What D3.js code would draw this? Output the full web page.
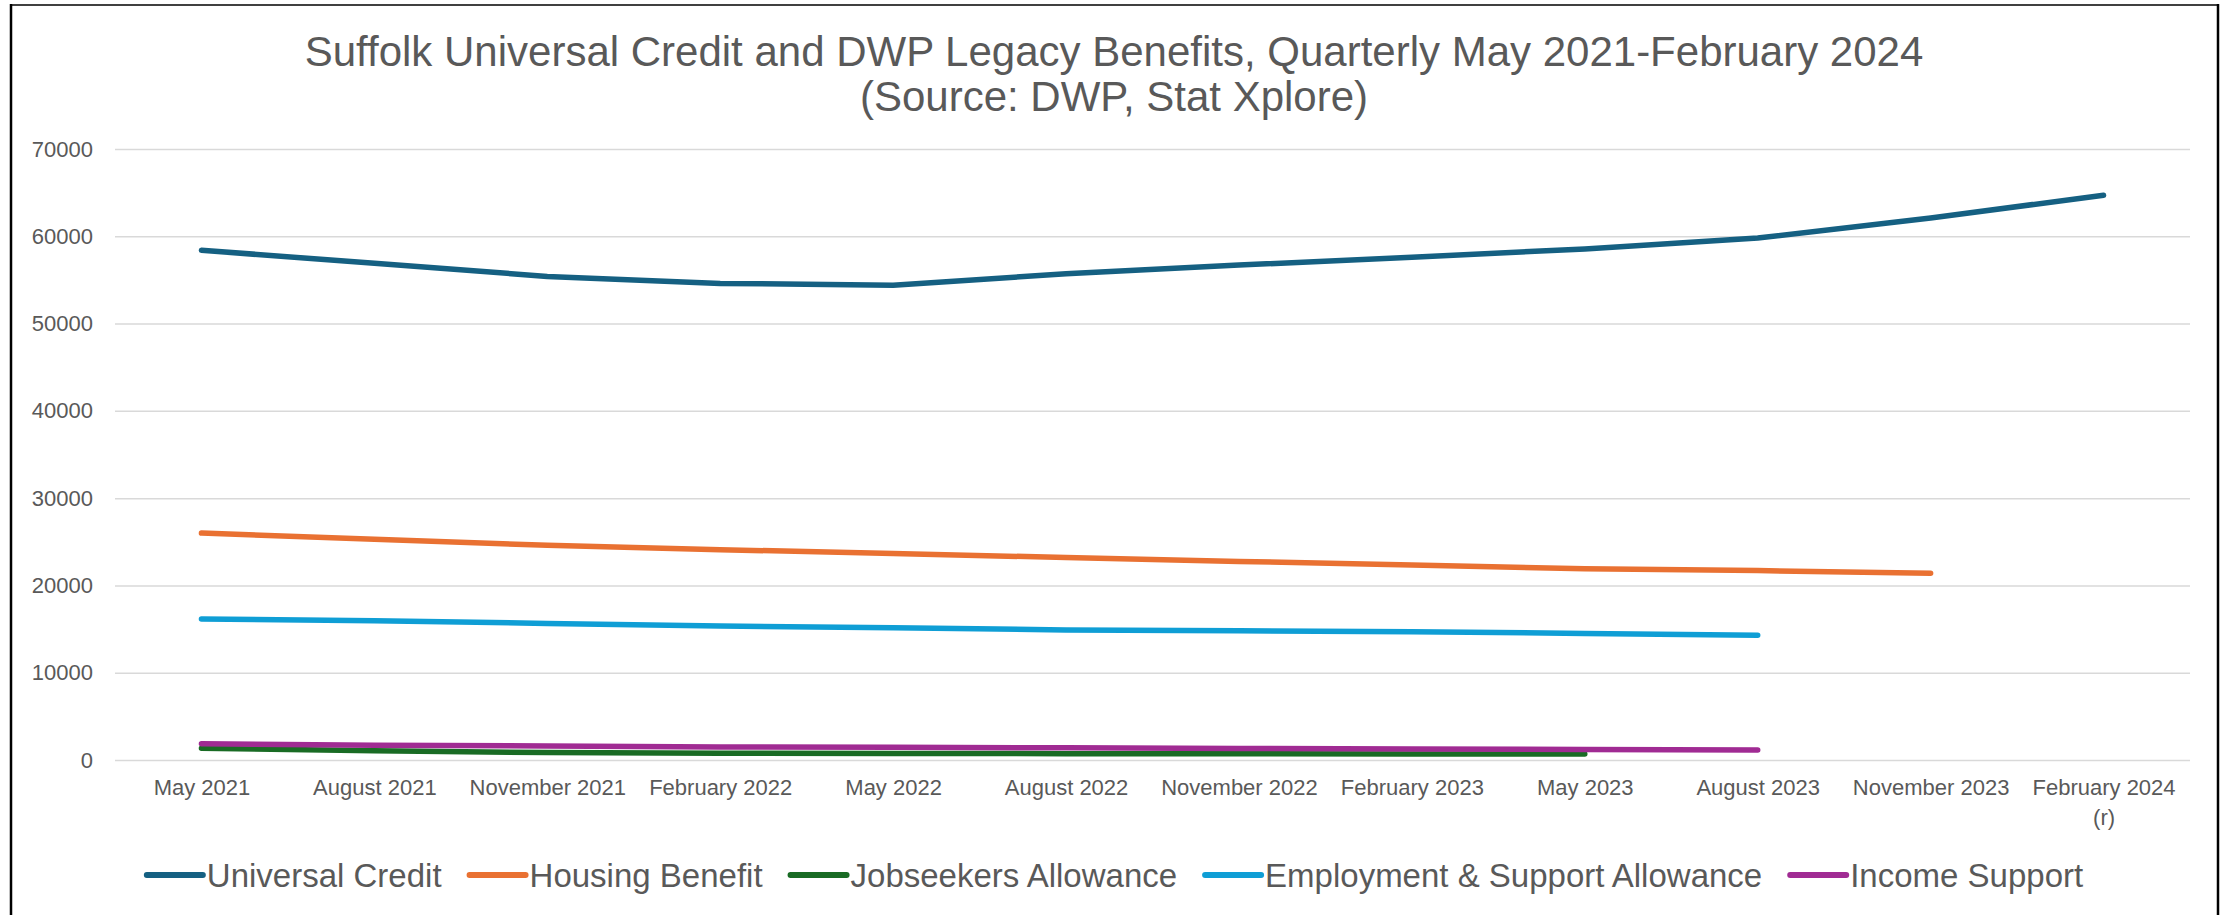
<!DOCTYPE html>
<html>
<head>
<meta charset="utf-8">
<script src="https://cdn.jsdelivr.net/npm/d3@7"></script>
<style>
  html, body { margin: 0; padding: 0; background: #fff; }
  svg { display: block; font-family: "Liberation Sans", Arial, sans-serif; }
</style>
</head>
<body>
<svg id="chart" width="2231" height="915"></svg>
<script>
// ---- Data ----
const titleLines = ["Suffolk Universal Credit and DWP Legacy Benefits, Quarterly May 2021-February 2024", "(Source: DWP, Stat Xplore)"];
const categories = ["May 2021", "August 2021", "November 2021", "February 2022", "May 2022", "August 2022",
  "November 2022", "February 2023", "May 2023", "August 2023", "November 2023", "February 2024 (r)"];
const yTicks = [0, 10000, 20000, 30000, 40000, 50000, 60000, 70000];
const seriesNames = ["Universal Credit", "Housing Benefit", "Jobseekers Allowance", "Employment & Support Allowance", "Income Support"];
const seriesColors = ["#156082", "#E97132", "#196B24", "#0F9ED5", "#A02B93"];
const universalCredit = [58400, 56900, 55400, 54600, 54400, 55700, 56700, 57600, 58550, 59800, 62100, 64700];
const housingBenefit = [26000, 25300, 24600, 24100, 23650, 23200, 22750, 22350, 21900, 21700, 21400, null];
const jobseekers = [1350, 1050, 850, 780, 740, 730, 720, 700, 680, null, null, null];
const esa = [16150, 15950, 15650, 15350, 15150, 14900, 14800, 14700, 14500, 14300, null, null];
const incomeSupport = [1850, 1700, 1600, 1500, 1450, 1400, 1320, 1270, 1200, 1150, null, null];
const seriesValues = [universalCredit, housingBenefit, jobseekers, esa, incomeSupport];

// ---- Layout ----
const W = 2231, H = 915;
const plot = { left: 115, right: 2190, top: 149, bottom: 760 };
const textColor = "#595959";

const svg = d3.select("#chart");
svg.append("rect").attr("width", W).attr("height", H).attr("fill", "#fff");

// border
svg.append("line").attr("x1", 11).attr("x2", 2219).attr("y1", 5).attr("y2", 5)
  .attr("stroke", "#404040").attr("stroke-width", 2);
svg.append("line").attr("x1", 11).attr("x2", 11).attr("y1", 4).attr("y2", H)
  .attr("stroke", "#000").attr("stroke-width", 2.5);
svg.append("line").attr("x1", 2218).attr("x2", 2218).attr("y1", 4).attr("y2", H)
  .attr("stroke", "#000").attr("stroke-width", 2.5);

// title
const title = svg.append("text").attr("text-anchor", "middle").attr("fill", textColor)
  .attr("font-size", 42);
titleLines.forEach((t, i) => {
  title.append("tspan").attr("x", 1114).attr("y", 66 + i * 45).text(t);
});

const x = d3.scalePoint().domain(categories).range([plot.left, plot.right]).padding(0.5);
const y = d3.scaleLinear().domain([0, 70000]).range([plot.bottom, plot.top]);

// gridlines + y labels
const yAxis = d3.axisLeft(y).tickValues(yTicks).tickSize(-(plot.right - plot.left)).tickPadding(22)
  .tickFormat(d3.format("d"));
const gy = svg.append("g").attr("transform", `translate(${plot.left},0)`).call(yAxis);
gy.select(".domain").remove();
gy.selectAll(".tick line").attr("stroke", "#D9D9D9").attr("stroke-width", 1.5);
gy.selectAll(".tick text").attr("fill", textColor).attr("font-size", 22)
  .attr("font-family", "'Liberation Sans', Arial, sans-serif");

// x labels
const step = x.step();
const xAxis = d3.axisBottom(x).tickSize(0).tickPadding(0);
const gx = svg.append("g").attr("transform", `translate(0,${plot.bottom})`).call(xAxis);
gx.select(".domain").remove();
gx.selectAll(".tick text").attr("fill", textColor).attr("font-size", 22)
  .attr("font-family", "'Liberation Sans', Arial, sans-serif")
  .attr("y", 35).attr("dy", 0)
  .each(function(d) {
    const el = d3.select(this);
    const words = d.split(" ");
    el.text(null);
    let line = [], lines = [];
    const tmp = el.append("tspan");
    words.forEach(w => {
      line.push(w);
      tmp.text(line.join(" "));
      if (tmp.node().getComputedTextLength() > step - 6 && line.length > 1) {
        line.pop(); lines.push(line.join(" ")); line = [w];
      }
    });
    lines.push(line.join(" "));
    tmp.remove();
    lines.forEach((l, i) => el.append("tspan").attr("x", 0).attr("y", 35 + i * 30).text(l));
  });

// lines
const lineGen = d3.line().defined(d => d.v !== null).x(d => x(d.c)).y(d => y(d.v));
seriesValues.forEach((vals, i) => {
  const pts = categories.map((c, j) => ({ c, v: vals[j] }));
  svg.append("path").datum(pts).attr("d", lineGen).attr("fill", "none")
    .attr("stroke", seriesColors[i]).attr("stroke-width", 5.5)
    .attr("stroke-linecap", "round").attr("stroke-linejoin", "round");
});

// legend
const legendY = 875, markerLen = 56, markerGap = 4, entryGap = 28;
const lg = svg.append("g");
let cx = 0;
seriesNames.forEach((name, i) => {
  const g = lg.append("g").attr("transform", `translate(${cx},0)`);
  g.append("line").attr("x1", 0).attr("x2", markerLen).attr("y1", legendY).attr("y2", legendY)
    .attr("stroke", seriesColors[i]).attr("stroke-width", 6).attr("stroke-linecap", "round");
  const t = g.append("text").attr("x", markerLen + markerGap).attr("y", legendY)
    .attr("dominant-baseline", "central").attr("font-size", 33).attr("fill", textColor).text(name);
  cx += markerLen + markerGap + t.node().getComputedTextLength() + entryGap;
});
const totalW = cx - entryGap;
lg.attr("transform", `translate(${1115 - totalW / 2},0)`);
</script>
</body>
</html>
